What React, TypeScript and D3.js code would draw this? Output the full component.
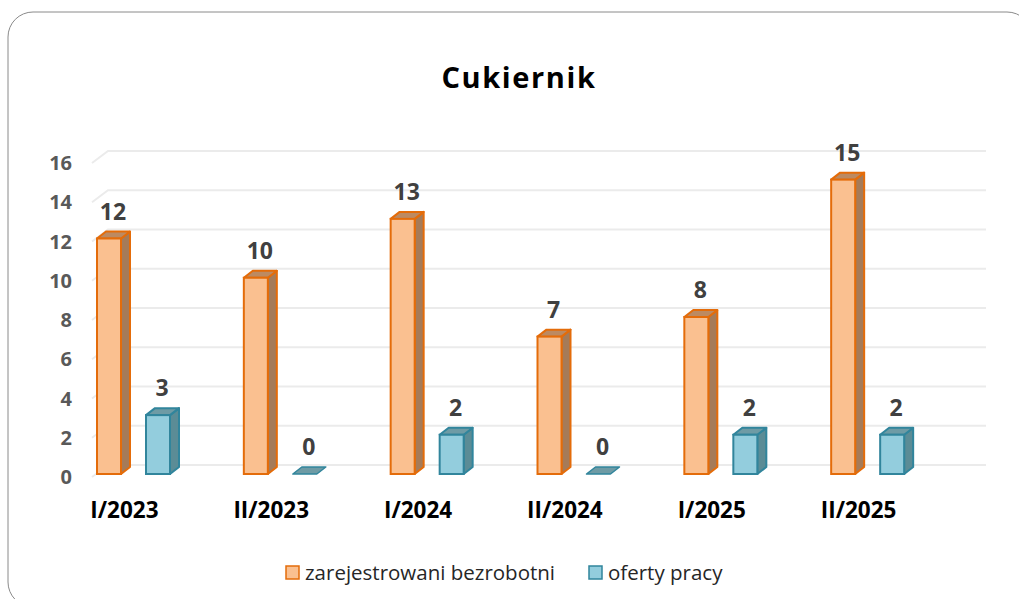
import React from "react";
import * as d3 from "d3";

const categories = ["I/2023", "II/2023", "I/2024", "II/2024", "I/2025", "II/2025"];
const seriesNames = ["zarejestrowani bezrobotni", "oferty pracy"];
const unemployed = [12, 10, 13, 7, 8, 15];
const offers = [3, 0, 2, 0, 2, 2];
const yTicks = [0, 2, 4, 6, 8, 10, 12, 14, 16];

const W = 1019;
const H = 599;
const FONT = "'Open Sans', 'DejaVu Sans', sans-serif";

const palette = [
  { front: "#FAC090", stroke: "#E46C0A", side: "#A57B59", top: "#BC8A62" },
  { front: "#93CDDD", stroke: "#31859C", side: "#5B8C96", top: "#6E9BA5" },
];

export default function App() {
  const y = d3.scaleLinear().domain([0, 16]).range([477, 163]);
  const x0 = d3.scaleBand<string>().domain(categories).range([60, 941]);
  const x1 = d3.scalePoint<string>().domain(seriesNames).range([37, 86]);
  const barW = 24;
  const bdx = 9, bdy = -7; // bar depth
  const wdx = 16, wdy = -12; // wall depth
  const barShift = -3;
  const gridRight = 986;

  const series = [unemployed, offers];

  const bars: React.ReactNode[] = [];
  const labels: React.ReactNode[] = [];
  categories.forEach((c, ci) => {
    series.forEach((vals, si) => {
      const v = vals[ci];
      const col = palette[si];
      const xl = (x0(c) as number) + (x1(seriesNames[si]) as number);
      const xr = xl + barW;
      const yb = y(0) + barShift;
      const yt = y(v) + barShift;
      const topPts = `${xl},${yt} ${xr},${yt} ${xr + bdx},${yt + bdy} ${xl + bdx},${yt + bdy}`;
      if (v > 0) {
        bars.push(
          <g key={`${ci}-${si}`}>
            <polygon
              points={`${xr},${yt} ${xr + bdx},${yt + bdy} ${xr + bdx},${yb + bdy} ${xr},${yb}`}
              fill={col.side}
              stroke={col.stroke}
              strokeWidth={2}
              strokeLinejoin="round"
            />
            <polygon points={topPts} fill={col.top} stroke={col.stroke} strokeWidth={2} strokeLinejoin="round" />
            <rect x={xl} y={yt} width={barW} height={yb - yt} fill={col.front} stroke={col.stroke} strokeWidth={2} />
          </g>
        );
      } else {
        bars.push(
          <polygon key={`${ci}-${si}`} points={topPts} fill={col.top} stroke={col.stroke} strokeWidth={1.5} strokeLinejoin="round" />
        );
      }
      labels.push(
        <text
          key={`l${ci}-${si}`}
          x={xl + barW / 2 + 4}
          y={yt - 19}
          textAnchor="middle"
          fontFamily={FONT}
          fontWeight={700}
          fontSize={23}
          fill="#404040"
        >
          {v}
        </text>
      );
    });
  });

  return (
    <svg width={W} height={H} style={{ position: "absolute", left: 0, top: 0 }}>
      <rect x={0} y={0} width={W} height={H} fill="#fff" />
      <rect x={8} y={12} width={1024} height={595} rx={25} ry={25} fill="#fff" stroke="#8a8a8a" strokeWidth={1} />
      <text x={519} y={88} textAnchor="middle" fontFamily={FONT} fontWeight={700} fontSize={29} letterSpacing={1.6} fill="#000">
        Cukiernik
      </text>
      {yTicks.map((t) => (
        <polyline
          key={`g${t}`}
          points={`${92},${y(t)} ${92 + wdx},${y(t) + wdy} ${gridRight},${y(t) + wdy}`}
          fill="none"
          stroke="#ebebeb"
          strokeWidth={2}
        />
      ))}
      {yTicks.map((t) => (
        <text
          key={`t${t}`}
          x={72}
          y={y(t) + 7}
          textAnchor="end"
          fontFamily={FONT}
          fontWeight={700}
          fontSize={20}
          fill="#595959"
        >
          {t}
        </text>
      ))}
      {bars}
      {labels}
      {categories.map((c) => (
        <text
          key={c}
          x={(x0(c) as number) + x0.bandwidth() / 2 - 9}
          y={518}
          textAnchor="middle"
          fontFamily={FONT}
          fontWeight={700}
          fontSize={22.5}
          fill="#000"
        >
          {c}
        </text>
      ))}
      {seriesNames.map((s, i) => {
        const lx = i === 0 ? 286 : 589;
        return (
          <g key={s}>
            <rect x={lx} y={566} width={13} height={13} fill={palette[i].front} stroke={palette[i].stroke} strokeWidth={1.5} />
            <text x={lx + 19} y={580} fontFamily={FONT} fontSize={20.5} fill="#262626">
              {s}
            </text>
          </g>
        );
      })}
    </svg>
  );
}
